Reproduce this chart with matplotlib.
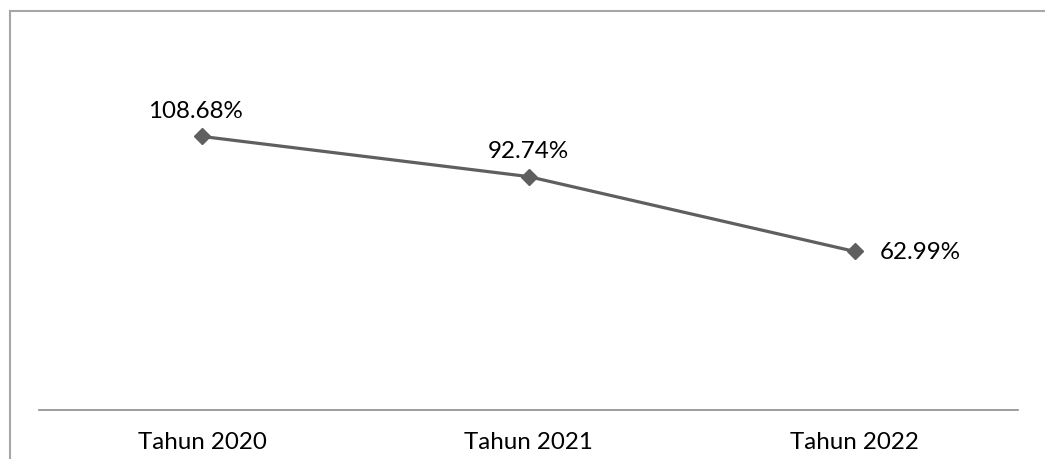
import matplotlib
matplotlib.use('Agg')
import matplotlib.pyplot as plt
from matplotlib.lines import Line2D

years = ['Tahun 2020', 'Tahun 2021', 'Tahun 2022']
values = [108.68, 92.74, 62.99]
labels = ['108.68%', '92.74%', '62.99%']

plt.rcParams['font.family'] = ['Lato', 'DejaVu Sans']

W, H = 1045, 460
fig = plt.figure(figsize=(W / 100, H / 100), dpi=100)

# plot area in pixels: x 39..1018, y bottom 411
x0, x1, yb = 39, 1018, 411
ymax = 150
scale = 2.517  # px per unit
yt = yb - ymax * scale
ax = fig.add_axes([x0 / W, (H - yb) / H, (x1 - x0) / W, (yb - yt) / H])

fs = 17.4
xs = range(len(years))
ax.plot(xs, values, color='#5f5f5f', lw=2.3, marker='D', ms=8.5, zorder=3)
ax.set_xlim(-0.5, len(years) - 0.5)
ax.set_ylim(0, ymax)

for i, (v, s) in enumerate(zip(values, labels)):
    if i == 2:
        ax.annotate(s, (i, v), xytext=(18, 0), textcoords='offset points',
                    ha='left', va='center', fontsize=fs, color='black')
    else:
        ax.annotate(s, (i, v), xytext=(-5 if i == 0 else 0, 11), textcoords='offset points',
                    ha='center', va='bottom', fontsize=fs, color='black')

ax.set_xticks(list(xs))
ax.set_xticklabels(years, fontsize=fs)
ax.tick_params(axis='x', length=0, pad=15)
ax.set_yticks([])
for sp in ['top', 'right', 'left']:
    ax.spines[sp].set_visible(False)
ax.spines['bottom'].set_color('#8c8c8c')
ax.spines['bottom'].set_linewidth(1.2)

# outer frame (cropped at right and bottom)
fig.add_artist(Line2D([10 / W, 10 / W], [0, 1 - 12 / H], color='#a6a6a6', lw=1.5))
fig.add_artist(Line2D([10 / W, 1], [1 - 12 / H, 1 - 12 / H], color='#a6a6a6', lw=1.5))

fig.savefig('out.png', dpi=100)
